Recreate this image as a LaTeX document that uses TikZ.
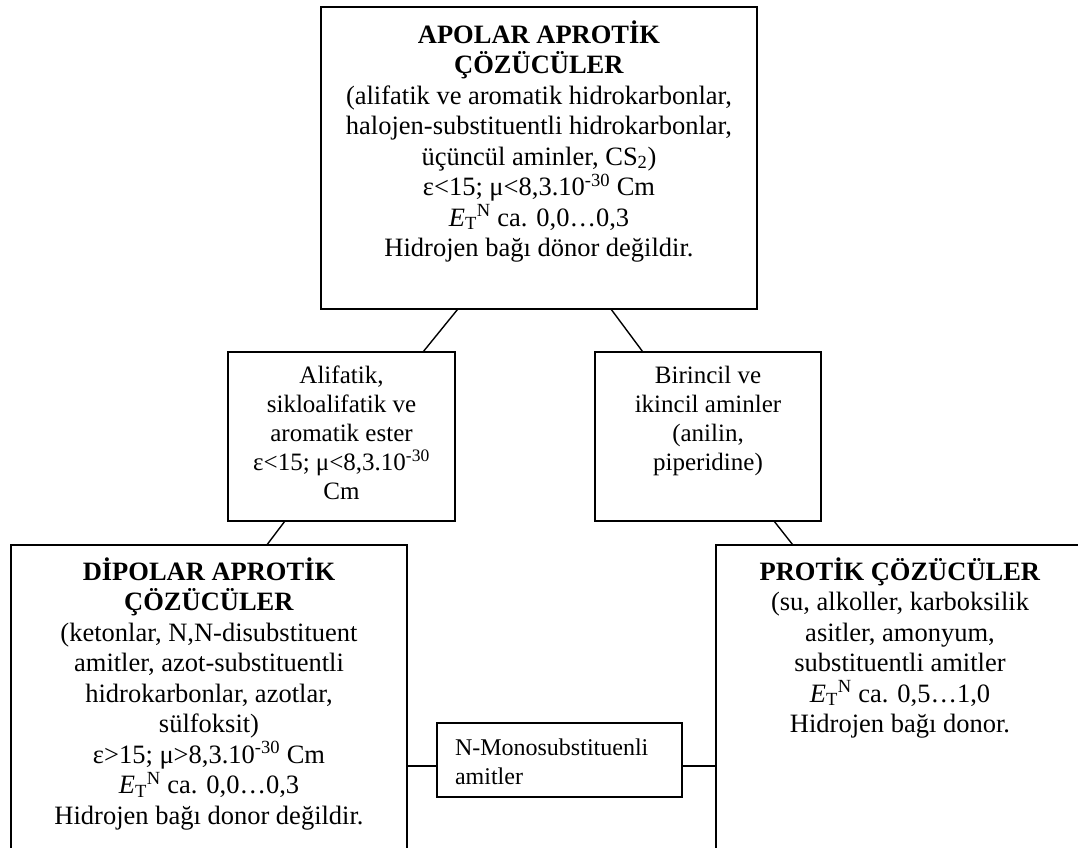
\documentclass[tikz,border=0pt]{standalone}
\usepackage{fontspec}
\setmainfont{Liberation Serif}
\usetikzlibrary{calc}

% sizes of the text styles used in the boxes
\newcommand{\bigtext}{\fontsize{26.5}{30.5}\selectfont}
\newcommand{\midtext}{\fontsize{25}{29.2}\selectfont}
\newcommand{\smalltext}{\fontsize{24}{29.5}\selectfont}
% E_T^N polarity parameter
\newcommand{\ETN}{\textit{E}\textsubscript{T}\textsuperscript{N}}
% fixed-size box content: width, height, first baseline offset, text
\newcommand{\boxtext}[4]{\parbox[c][#2][t]{#1}{\centering\rule{0pt}{#3}#4}}

\tikzset{
  box/.style={draw, line width=1.4pt, inner sep=0pt, outer sep=0pt,
              anchor=north west, fill=white},
  link/.style={line width=1.4pt},
}

\begin{document}
\begin{tikzpicture}[x=1pt, y=-1pt]
  \useasboundingbox (0,0) rectangle (1078,847);
  \fill[white] (0,0) rectangle (1078,847);
  \clip (0,0) rectangle (1078,847);

  % top: apolar aprotic solvents
  \node[box] (apolar) at (321,7) {\boxtext{436pt}{302pt}{36pt}{\bigtext
    \textbf{APOLAR APROTİK}\\
    \textbf{ÇÖZÜCÜLER}\\
    (alifatik ve aromatik hidrokarbonlar,\\
    halojen-substituentli hidrokarbonlar,\\
    üçüncül aminler, CS\textsubscript{2})\\
    ε<15; μ<8,3.10\textsuperscript{-30} Cm\\
    \ETN{} ca. 0,0…0,3\\
    Hidrojen bağı dönor değildir.}};

  % middle: transition groups
  \node[box] (ester) at (228,352) {\boxtext{227pt}{169pt}{31pt}{\midtext
    Alifatik,\\
    sikloalifatik ve\\
    aromatik ester\\
    ε<15; μ<8,3.10\textsuperscript{-30}\\
    Cm}};

  \node[box] (amine) at (595,352) {\boxtext{226pt}{169pt}{31pt}{\midtext
    Birincil ve\\
    ikincil aminler\\
    (anilin,\\
    piperidine)}};

  % bottom: dipolar aprotic and protic solvents
  \node[box] (dipolar) at (11,545) {\boxtext{396pt}{330pt}{35pt}{\bigtext
    \textbf{DİPOLAR APROTİK}\\
    \textbf{ÇÖZÜCÜLER}\\
    (ketonlar, N,N-disubstituent\\
    amitler, azot-substituentli\\
    hidrokarbonlar, azotlar,\\
    sülfoksit)\\
    ε>15; μ>8,3.10\textsuperscript{-30} Cm\\
    \ETN{} ca. 0,0…0,3\\
    Hidrojen bağı donor değildir.}};

  \node[box] (protic) at (716,545) {\boxtext{368pt}{330pt}{35pt}{\bigtext
    \textbf{PROTİK ÇÖZÜCÜLER}\\
    (su, alkoller, karboksilik\\
    asitler, amonyum,\\
    substituentli amitler\\
    \ETN{} ca. 0,5…1,0\\
    Hidrojen bağı donor.}};

  \node[box] (amide) at (437,723) {\parbox[c][74pt][t]{245pt}{\raggedright
    \leftskip=18pt\rule{0pt}{32pt}\smalltext
    N-Monosubstituenli\\
    amitler}};

  % connectors
  \draw[link] ($(apolar.south west)!0.314!(apolar.south east)$) --
              ($(ester.north west)!0.859!(ester.north east)$);
  \draw[link] ($(apolar.south west)!0.665!(apolar.south east)$) --
              ($(amine.north west)!0.212!(amine.north east)$);
  \draw[link] ($(ester.south west)!0.251!(ester.south east)$) --
              ($(dipolar.north west)!0.646!(dipolar.north east)$);
  \draw[link] ($(amine.south west)!0.792!(amine.south east)$) --
              ($(protic.north west)!0.209!(protic.north east)$);
  \coordinate (amL) at ($(amide.north west)!0.58!(amide.south west)$);
  \coordinate (amR) at ($(amide.north east)!0.58!(amide.south east)$);
  \draw[link] (amL) -- (amL -| dipolar.east);
  \draw[link] (amR) -- (amR -| protic.west);
\end{tikzpicture}
\end{document}
